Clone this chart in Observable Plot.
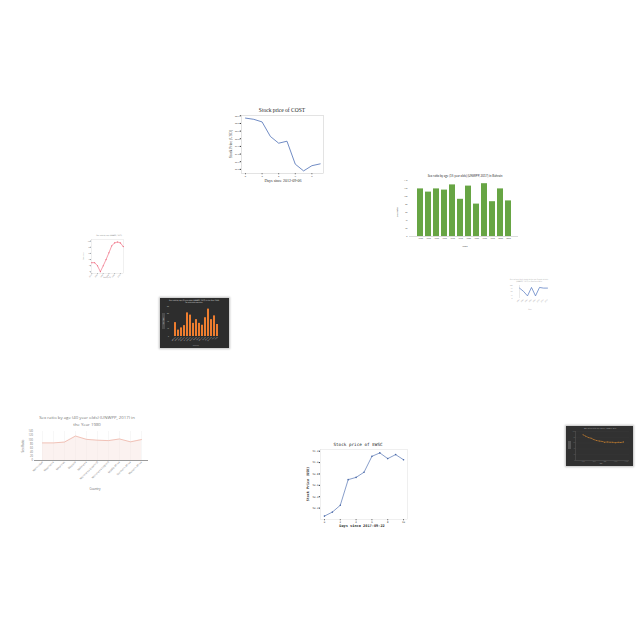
<!DOCTYPE html>
<html><head><meta charset="utf-8">
<script src="https://cdn.jsdelivr.net/npm/d3@7"></script>
<script src="https://cdn.jsdelivr.net/npm/@observablehq/plot@0.6"></script>
<style>
html,body{margin:0;padding:0;background:#fff;}
#root{position:relative;width:640px;height:640px;overflow:hidden;background:#fff;}
#root svg{display:block;}
</style></head><body><div id="root"></div>
<script>
// ---------- DATA ----------
// Stock price of COST
const costDays = [0,1,2,3,4,5,6,7,8,9];
const costPrice = [99.35,99.27,99.10,98.15,97.71,97.84,96.34,95.90,96.24,96.36];
const costXTicks = [0,2,4,6,8];
const costYTicks = [96.0,96.5,97.0,97.5,98.0,98.5,99.0,99.5];

// Stock price of EWSC
const ewscDays = [0,1,2,3,4,5,6,7,8,9,10];
const ewscPrice = [50.06,50.13,50.25,50.70,50.74,50.83,51.11,51.17,51.07,51.14,51.05];
const ewscXTicks = [0,2,4,6,8,10];
const ewscYTicks = [50.2,50.4,50.6,50.8,51.0,51.2];

// Sex ratio (15 year olds) Bahrain
const bahrainYears = ["1950","1955","1960","1965","1970","1975","1980","1985","1990","1995","2000","2005"];
const bahrainRatio = [119,111,119,116,129,93,126,81,132,87,119,89];
const bahrainYTicks = [0,20,40,60,80,100,120,140];

// Sex ratio (40 year olds) 1980
const countries40 = ["Martinique","Mauritania","Mauritius","Mayotte","Melanesia","Micronesia (country)","Micronesia (region)","Middle Africa","Northern Africa","Western Africa"];
const ratio40 = [85,85,89,118,102,98,96,104,90,101];
const ratio40Ticks = [0,20,40,60,80,100,120,140];

// small red line chart
const redYears = ["1950","1955","1960","1965","1970","1975","1980","1985","1990","1995","2000","2005"];
const redValues = [30,30,20,1,20,40,62,85,94,97,94,82];

// small blue line chart
const blueYears = ["1975","1980","1985","1990","1995","2000","2005","2010"];
const blueValues = [80,55,20,85,20,85,80,80];

// dark bar chart
const darkBarCats = ["Albania","Algeria","Angola","Armenia","Austria","Bahrain","Belarus","Belize","Benin","Bhutan","Brazil","Brunei","Burundi","Chad","Chile"];
const darkBarValues = [37,17,23,29,63,57,35,45,35,30,50,73,45,55,32];

// dark line chart
const darkLineYears = [1950,1955,1960,1965,1970,1975,1980,1985,1990,1995,2000,2005,2010,2015,2020,2025];
const darkLineValues = [88.5,84,79,77,72,69,67,66,63,64,63,63,61,63,62,64];

// ---------- HELPERS ----------
const root = document.getElementById("root");
function place(el, x, y) {
  const d = document.createElement("div");
  d.style.cssText = `position:absolute;left:${x}px;top:${y}px;`;
  d.appendChild(el); root.appendChild(d); return d;
}
function box(x, y, w, h, bg, shadow) {
  const d = document.createElement("div");
  d.style.cssText = `position:absolute;left:${x}px;top:${y}px;width:${w}px;height:${h}px;background:${bg};${shadow ? "box-shadow:0 0 2px 1px rgba(0,0,0,0.25);" : ""}`;
  root.appendChild(d);
}
function T(s, x, y, o = {}) {
  const d = document.createElement("div");
  d.textContent = s;
  d.style.cssText = `position:absolute;left:${x}px;top:${y}px;white-space:nowrap;line-height:1;font-family:${o.font || "DejaVu Sans"};font-size:${o.size || 4}px;color:${o.color || "#333"};font-weight:${o.weight || "normal"};transform:translate(-50%,-50%) rotate(${o.rotate || 0}deg);`;
  root.appendChild(d);
}
const st = (font, size, color) => ({background: "transparent", fontFamily: font, fontSize: size + "px", color, overflow: "visible"});

// ---------- 1. COST ----------
const costData = costDays.map((d, i) => ({day: d, price: costPrice[i]}));
place(Plot.plot({
  width: 104, height: 88, marginLeft: 17, marginRight: 5, marginTop: 9, marginBottom: 21,
  style: st("Liberation Serif", 2.6, "#333"),
  x: {domain: [-0.48, 9.4], ticks: costXTicks, tickSize: 1.2, tickPadding: 0.8, label: null},
  y: {domain: [95.73, 99.52], ticks: costYTicks, tickFormat: ".1f", tickSize: 1.2, tickPadding: 0.8, label: null},
  marks: [
    Plot.frame({stroke: "#c8c8c8", strokeWidth: 0.5}),
    Plot.line(costData, {x: "day", y: "price", stroke: "#4c6fb5", strokeWidth: 0.8})
  ]
}), 224, 106);
T("Stock price of COST", 282, 111, {font: "Liberation Serif", size: 5.5, color: "#222"});
T("Stock Price (USD)", 232, 144, {font: "Liberation Serif", size: 3.8, rotate: -90});
T("Days since 2012-09-06", 283, 181.3, {font: "Liberation Serif", size: 4});

// ---------- 2. Bahrain bars ----------
const bahrainData = bahrainYears.map((y, i) => ({year: y, ratio: bahrainRatio[i]}));
place(Plot.plot({
  width: 127, height: 92, marginLeft: 17, marginRight: 1, marginTop: 10, marginBottom: 26,
  style: st("Lato", 2, "#555"),
  x: {domain: bahrainYears, padding: 0.28, tickSize: 0, tickPadding: 1.5, label: null},
  y: {domain: [0, 140], ticks: bahrainYTicks, tickSize: 0, tickPadding: 2, label: null},
  marks: [
    Plot.barY(bahrainData, {x: "year", y: "ratio", fill: "#67a544"}),
    Plot.ruleY([0], {stroke: "#888", strokeWidth: 0.3})
  ]
}), 392, 170);
T("Sex ratio by age (15 year olds) (UNWPP, 2017) in Bahrain", 465, 175.7, {font: "Lato", size: 3, color: "#333"});
T("Sex Ratio", 398, 212, {font: "Lato", size: 2.4, rotate: -90, color: "#444"});
T("Years", 464.7, 247.3, {font: "Lato", size: 2.4, color: "#444"});

// ---------- 3. small red line ----------
const redData = redYears.map((y, i) => ({i, year: y, v: redValues[i]}));
place(Plot.plot({
  width: 56, height: 56, marginLeft: 11, marginRight: 13, marginTop: 9, marginBottom: 13,
  style: st("DejaVu Sans", 1.5, "#777"),
  x: {domain: [-0.1, 11.1], ticks: [0,2,4,6,8,10], tickFormat: i => redYears[i], tickSize: 0.6, tickPadding: 0.5, tickRotate: -45, label: null},
  y: {domain: [-5, 105], ticks: [0,20,40,60,80,100], tickSize: 0.6, tickPadding: 0.5, label: null},
  marks: [
    Plot.frame({stroke: "#ccc", strokeWidth: 0.3}),
    Plot.line(redData, {x: "i", y: "v", stroke: "#ee5c73", strokeWidth: 0.6}),
    Plot.dot(redData, {x: "i", y: "v", r: 0.55, fill: "#ee5c73"})
  ]
}), 80, 230);
T("Sex ratio by age (UNWPP, 2017)", 109, 236, {size: 1.6, color: "#666"});
T("Sex ratio", 84.3, 256, {size: 1.6, rotate: -90, color: "#666"});
T("Year (x 5)", 107, 278, {size: 1.6, color: "#666"});

// ---------- 4. small blue line ----------
const blueData = blueYears.map((y, i) => ({year: y, v: blueValues[i]}));
place(Plot.plot({
  width: 60, height: 42, marginLeft: 15, marginRight: 6, marginTop: 9, marginBottom: 20,
  style: st("DejaVu Sans", 1.5, "#999"),
  x: {domain: blueYears, tickSize: 0, tickPadding: 1, tickRotate: -45, label: null},
  y: {domain: [0, 100], ticks: [0,25,50,75,100], tickSize: 0, tickPadding: 1, label: null},
  marks: [
    Plot.ruleX([blueYears[0]], {stroke: "#bbb", strokeWidth: 0.3}),
    Plot.line(blueData, {x: "year", y: "v", stroke: "#4f74bf", strokeWidth: 0.7})
  ]
}), 498, 276);
T("Sex ratio at birth (male births per female births)", 529, 280, {size: 1.6, color: "#999"});
T("(UNWPP, 2017) in Southern Asia", 529, 282.4, {size: 1.6, color: "#999"});
T("Year", 530, 310, {size: 1.6, color: "#999"});

// ---------- 5. dark bar chart ----------
box(160, 298, 69, 50, "#2d2d2d", true);
const darkBarData = darkBarCats.map((c, i) => ({c, v: darkBarValues[i]}));
place(Plot.plot({
  width: 69, height: 50, marginLeft: 9, marginRight: 5, marginTop: 8, marginBottom: 12,
  style: st("DejaVu Sans", 1.4, "#ccc"),
  x: {domain: darkBarCats, padding: 0.22, tickSize: 0, tickPadding: 0.6, tickRotate: -45, label: null},
  y: {domain: [0, 80], ticks: [0,20,40,60,80], tickSize: 0, tickPadding: 0.6, label: null},
  marks: [
    Plot.barY(darkBarData, {x: "c", y: "v", fill: "#ee7d2f"})
  ]
}), 160, 298);
box(162, 313, 3, 16, "#4a4a4a", false);
T("Sex ratio by age (5 year olds) (UNWPP, 2017) in the Year 2000", 194, 300.6, {size: 1.6, color: "#eee"});
T("for selected countries", 194, 302.8, {size: 1.6, color: "#eee"});
T("Sex Ratio", 163.5, 321, {size: 1.4, rotate: -90, color: "#ddd"});
T("Country", 196, 345.5, {size: 1.5, color: "#ccc"});

// ---------- 6. Sex ratio 40 year olds ----------
const r40Data = countries40.map((c, i) => ({c, v: ratio40[i]}));
place(Plot.plot({
  width: 140, height: 70, marginLeft: 14, marginRight: 12, marginTop: 3, marginBottom: 38,
  style: st("Open Sans", 2.6, "#777"),
  x: {type: "point", domain: countries40, padding: 0.3, tickSize: 0, tickPadding: 1.2, tickRotate: -45, label: null},
  y: {domain: [0, 140], ticks: ratio40Ticks, tickSize: 0, tickPadding: 1.5, label: null},
  marks: [
    Plot.ruleX(countries40, {stroke: "#ececec", strokeWidth: 0.4}),
    Plot.areaY(r40Data, {x: "c", y: "v", fill: "#f6e3dd", fillOpacity: 0.45}),
    Plot.line(r40Data, {x: "c", y: "v", stroke: "#e9a190", strokeWidth: 0.6}),
    Plot.ruleY([0], {stroke: "#555", strokeWidth: 0.6})
  ]
}), 20, 428);
T("Sex ratio by age (40 year olds) (UNWPP, 2017) in", 87, 417.3, {font: "Open Sans", size: 4.3, color: "#777"});
T("the Year 1980", 87, 424, {font: "Open Sans", size: 4.3, color: "#777"});
T("Sex Ratio", 23.3, 446, {font: "Open Sans", size: 3, rotate: -90, color: "#666"});
T("Country", 95, 489, {font: "Open Sans", size: 3, color: "#666"});

// ---------- 7. EWSC ----------
const ewscData = ewscDays.map((d, i) => ({day: d, price: ewscPrice[i]}));
place(Plot.plot({
  width: 112, height: 94, marginLeft: 20, marginRight: 5, marginTop: 11, marginBottom: 13,
  style: st("DejaVu Sans Mono", 2.5, "#333"),
  x: {domain: [-0.5, 10.5], ticks: ewscXTicks, tickSize: 1.2, tickPadding: 0.8, label: null},
  y: {domain: [50.0, 51.23], ticks: ewscYTicks, tickFormat: ".1f", tickSize: 1.2, tickPadding: 0.8, label: null},
  marks: [
    Plot.frame({stroke: "#d8d8d8", strokeWidth: 0.4}),
    Plot.line(ewscData, {x: "day", y: "price", stroke: "#5474b3", strokeWidth: 0.7}),
    Plot.dot(ewscData, {x: "day", y: "price", r: 0.8, fill: "#4a69a8"})
  ]
}), 300, 438);
T("Stock price of EWSC", 358, 445, {font: "DejaVu Sans Mono", size: 4.3, color: "#222"});
T("Stock Price (USD)", 308.7, 484, {font: "DejaVu Sans Mono", size: 3.4, rotate: -90, weight: "bold", color: "#333"});
T("Days since 2017-09-22", 362, 526.5, {font: "DejaVu Sans Mono", size: 3.6, weight: "bold", color: "#333"});

// ---------- 8. dark line chart ----------
box(566, 426, 67, 40, "#313131", true);
const darkLineData = darkLineYears.map((y, i) => ({y, v: darkLineValues[i]}));
place(Plot.plot({
  width: 67, height: 40, marginLeft: 9, marginRight: 4, marginTop: 5, marginBottom: 6,
  style: st("DejaVu Sans", 1.2, "#aaa"),
  x: {domain: [1936, 2036], ticks: [1950,1970,1990,2010,2030], tickSize: 0, tickPadding: 0.6, label: null},
  y: {domain: [0, 100], ticks: [0,20,40,60,80,100], tickSize: 0, tickPadding: 0.6, label: null},
  marks: [
    Plot.ruleY([20,40,60,80,100], {stroke: "#3c3c3c", strokeWidth: 0.3}),
    Plot.ruleX([1936], {stroke: "#777", strokeWidth: 0.3}),
    Plot.ruleY([0], {stroke: "#777", strokeWidth: 0.3}),
    Plot.line(darkLineData, {x: "y", y: "v", stroke: "#e8912f", strokeWidth: 0.5, strokeDasharray: "1.2,0.8"}),
    Plot.dot(darkLineData, {x: "y", y: "v", r: 0.45, fill: "#e8912f"})
  ]
}), 566, 426);
box(568, 441, 2.5, 8, "#555", false);
T("Sex ratio at birth by country, 1950 to 2025", 600, 428.6, {size: 1.5, color: "#ccc"});
T("Year", 601, 463.5, {size: 1.4, color: "#aaa"});
</script>
</body></html>
